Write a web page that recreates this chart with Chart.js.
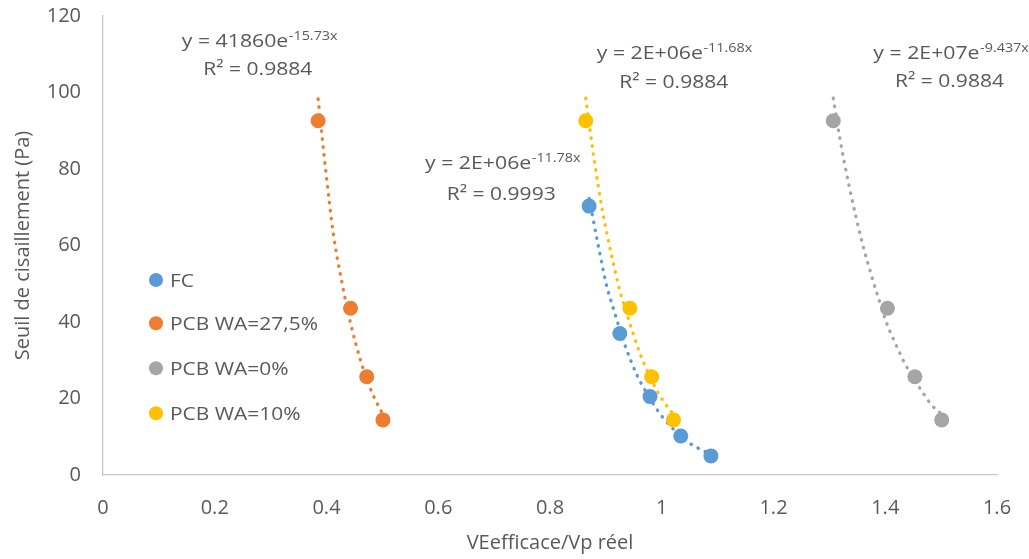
<!DOCTYPE html>
<html><head><meta charset="utf-8">
<script src="https://cdn.jsdelivr.net/npm/chart.js@4"></script>
<style>html,body{margin:0;padding:0;background:#fff;overflow:hidden}#wrap{width:1029px;height:559px;position:relative}</style>
</head><body><div id="wrap"><canvas id="c" width="1029" height="559"></canvas></div>
<script>
// ---- data ----
const seriesNames = ['FC', 'PCB WA=27,5%', 'PCB WA=0%', 'PCB WA=10%'];
const seriesColors = ['#5B9BD5', '#ED7D31', '#A5A5A5', '#FFC000'];

const fcX = [0.870, 0.925, 0.979, 1.034, 1.088];
const fcY = [70.3, 37.0, 20.5, 10.2, 5.0];
const pcb275X = [0.385, 0.443, 0.472, 0.501];
const pcb275Y = [92.6, 43.6, 25.7, 14.4];
const pcb0X = [1.307, 1.404, 1.453, 1.501];
const pcb0Y = [92.6, 43.6, 25.7, 14.4];
const pcb10X = [0.864, 0.943, 0.982, 1.021];
const pcb10Y = [92.6, 43.6, 25.7, 14.4];

// trendline points
const fcTrendX = [0.870, 0.888, 0.900, 0.916, 0.934, 0.956, 0.970, 0.993, 1.011, 1.050, 1.074, 1.088];
const fcTrendY = [72.3, 58.8, 50.3, 42.3, 34.0, 26.0, 22.2, 16.8, 13.5, 8.3, 6.4, 5.3];
const pcb275TrendX = [0.385, 0.399, 0.412, 0.428, 0.444, 0.463, 0.481, 0.501];
const pcb275TrendY = [98.3, 79.1, 63.3, 50.0, 39.1, 29.0, 21.7, 15.8];
const pcb0TrendX = [1.307, 1.319, 1.336, 1.359, 1.375, 1.388, 1.401, 1.425, 1.437, 1.467, 1.483, 1.501];
const pcb0TrendY = [98.5, 87.8, 75.1, 60.6, 52.3, 46.2, 40.3, 32.2, 28.6, 21.6, 18.3, 15.9];
const pcb10TrendX = [0.864, 0.880, 0.894, 0.912, 0.925, 0.940, 0.961, 0.989, 1.004, 1.021];
const pcb10TrendY = [98.5, 81.5, 69.0, 56.2, 48.2, 41.0, 31.8, 22.7, 19.1, 15.8];

const xTickLabels = ['0', '0.2', '0.4', '0.6', '0.8', '1', '1.2', '1.4', '1.6'];
const yTickLabels = ['0', '20', '40', '60', '80', '100', '120'];
const xTitle = 'VEefficace/Vp réel';
const yTitle = 'Seuil de cisaillement (Pa)';

const eqMain = ['y = 2E+06e', 'y = 41860e', 'y = 2E+07e', 'y = 2E+06e'];
const eqSup = ['-11.78x', '-15.73x', '-9.437x', '-11.68x'];
const eqR2 = ['R² = 0.9993', 'R² = 0.9884', 'R² = 0.9884', 'R² = 0.9884'];

// ---- layout (pixels) ----
const eqPos = [
  {x: 425, y: 168.5, rx: 446.7, ry: 200},
  {x: 181.7, y: 46.7, rx: 203.3, ry: 75},
  {x: 873.3, y: 58.5, rx: 895, ry: 87},
  {x: 596.7, y: 59.3, rx: 619.3, ry: 88.3}
];
const legendRows = [280, 323.3, 368.3, 413.3];
const TEXT = '#595959';
const FONT = '"Open Sans", "Liberation Sans", sans-serif';

const pts = (xs, ys) => xs.map((x, i) => ({x: x, y: ys[i]}));
const pointSets = [pts(fcX, fcY), pts(pcb275X, pcb275Y), pts(pcb0X, pcb0Y), pts(pcb10X, pcb10Y)];
const trendSets = [pts(fcTrendX, fcTrendY), pts(pcb275TrendX, pcb275TrendY), pts(pcb0TrendX, pcb0TrendY), pts(pcb10TrendX, pcb10TrendY)];

const datasets = [];
pointSets.forEach((d, i) => datasets.push({
  label: seriesNames[i], data: d, showLine: false,
  pointRadius: 7.5, pointHoverRadius: 7.5, pointBorderWidth: 0,
  backgroundColor: seriesColors[i], borderColor: seriesColors[i], order: 0
}));
trendSets.forEach((d, i) => datasets.push({
  label: seriesNames[i] + ' trend', data: d, showLine: true, pointRadius: 0,
  borderColor: seriesColors[i], borderWidth: 3.3, borderDash: [0.5, 7.5], borderCapStyle: 'round',
  cubicInterpolationMode: 'monotone', fill: false, order: 1
}));

function fitText(ctx, text, x, y, font, sx) {
  ctx.save();
  ctx.font = font;
  ctx.translate(x, y);
  ctx.scale(sx, 1);
  ctx.fillText(text, 0, 0);
  const w = ctx.measureText(text).width * sx;
  ctx.restore();
  return w;
}

const overlay = {
  id: 'overlay',
  afterDatasetsDraw(chart) {
    const ctx = chart.ctx;
    ctx.save();
    ctx.fillStyle = TEXT;
    ctx.textBaseline = 'alphabetic';
    ctx.textAlign = 'left';
    const mainFont = '18.5px ' + FONT;
    const supFont = '12.5px ' + FONT;
    ctx.font = mainFont;
    const sxMain = 106.6 / ctx.measureText('y = 41860e').width;
    const sxR = 109 / ctx.measureText('R² = 0.9884').width;
    eqMain.forEach((t, i) => {
      const p = eqPos[i];
      ctx.fillStyle = TEXT;
      const w = fitText(ctx, t, p.x, p.y, mainFont, sxMain);
      fitText(ctx, eqSup[i], p.x + w + 0.5, p.y - 7, supFont, sxMain);
      fitText(ctx, eqR2[i], p.rx, p.ry, mainFont, sxR);
    });
    // legend
    ctx.font = mainFont;
    const sxL = 148 / ctx.measureText('PCB WA=27,5%').width;
    seriesNames.forEach((n, i) => {
      const y = legendRows[i];
      ctx.fillStyle = seriesColors[i];
      ctx.beginPath();
      ctx.arc(156, y, 7, 0, Math.PI * 2);
      ctx.fill();
      ctx.fillStyle = TEXT;
      fitText(ctx, n, 170, y + 6.7, mainFont, sxL);
    });
    ctx.restore();
  }
};

new Chart(document.getElementById('c'), {
  type: 'scatter',
  data: {datasets: datasets},
  plugins: [overlay],
  options: {
    responsive: false, animation: false, devicePixelRatio: 1,
    layout: {padding: {top: 0, right: 32, bottom: 0, left: 0}},
    plugins: {legend: {display: false}, tooltip: {enabled: false}},
    scales: {
      x: {
        type: 'linear', min: 0, max: 1.6,
        afterFit: s => { s.height = 84; s.paddingLeft = 0; s.paddingRight = 0; },
        grid: {display: false, drawTicks: false},
        border: {display: true, color: '#C9C9C9', width: 1.3},
        ticks: {stepSize: 0.2, padding: 21, color: TEXT, font: {family: FONT, size: 20},
          callback: (v, i) => xTickLabels[i]},
        title: {display: true, text: xTitle, color: TEXT, font: {family: FONT, size: 20}, padding: {top: 0, bottom: 4}}
      },
      y: {
        type: 'linear', min: 0, max: 120,
        afterFit: s => { s.width = 103; s.paddingTop = 16; s.paddingBottom = 0; },
        grid: {display: false, drawTicks: false},
        border: {display: true, color: '#C9C9C9', width: 1.3},
        ticks: {stepSize: 20, padding: 22, color: TEXT, font: {family: FONT, size: 20},
          callback: (v, i) => yTickLabels[i]},
        title: {display: true, text: yTitle, color: TEXT, font: {family: FONT, size: 20}, padding: {top: 11, bottom: 0}}
      }
    }
  }
});
</script></body></html>
